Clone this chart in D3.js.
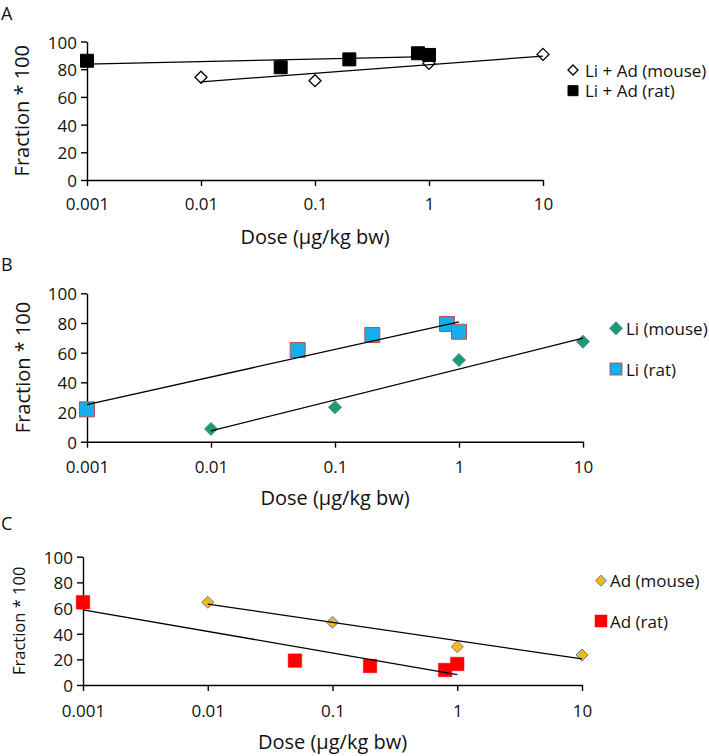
<!DOCTYPE html>
<html>
<head>
<meta charset="utf-8">
<script src="https://cdn.jsdelivr.net/npm/d3@7"></script>
<style>
  html, body { margin: 0; padding: 0; background: #fff; }
  svg { display: block; font-family: "Open Sans", sans-serif; }
</style>
</head>
<body>
<svg id="chart" width="709" height="756"></svg>
<script>
// ---- data ----
const xTickValues = [0.001, 0.01, 0.1, 1, 10];
const xTickLabels = ["0.001", "0.01", "0.1", "1", "10"];
const yTickValues = [0, 20, 40, 60, 80, 100];

const mouseDoses = [0.01, 0.1, 1, 10];
const ratDoses = [0.001, 0.05, 0.2, 0.8, 1];

const liAdMouse = [74.2, 71.7, 84.2, 90.7];
const liAdRat = [86.1, 81.4, 87.1, 91.5, 90.3];

const liMouse = [8.6, 23.2, 55.0, 67.4];
const liRat = [21.8, 61.8, 71.9, 79.3, 74.1];

const adMouse = [64.5, 48.9, 29.9, 23.4];
const adRat = [64.5, 19.0, 14.8, 11.7, 16.4];

const panelLetters = ["A", "B", "C"];
const legendLabels = [
  ["Li + Ad (mouse)", "Li + Ad (rat)"],
  ["Li (mouse)", "Li (rat)"],
  ["Ad (mouse)", "Ad (rat)"]
];
const xTitle = "Dose (\u00b5g/kg bw)";
const yTitle = "Fraction * 100";

// ---- layout / style ----
const panels = [
  { letter: panelLetters[0], letterY: 13, left: 87, right: 543, top: 41.5, bottom: 180,
    xLabelY: 203, xTitleY: 236, yTitleX: 21, yTitleSize: 20,
    legendX: 573, legendY: [70, 90.7], legendText: legendLabels[0], legendMarker: [10, 10], legendGap: 12,
    series: [
      { doses: mouseDoses, values: liAdMouse, shape: "diamond", size: 12, fill: "#fff", stroke: "#000", sw: 1.3 },
      { doses: ratDoses, values: liAdRat, shape: "square", size: 13, fill: "#000", stroke: "#000", sw: 1 }
    ] },
  { letter: panelLetters[1], letterY: 264, left: 87, right: 583, top: 293.3, bottom: 441.7,
    xLabelY: 466.7, xTitleY: 497, yTitleX: 22, yTitleSize: 20,
    legendX: 616, legendY: [328.3, 369], legendText: legendLabels[1], legendMarker: [13, 12], legendGap: 10,
    series: [
      { doses: mouseDoses, values: liMouse, shape: "diamond", size: 13, fill: "#1B9E67", stroke: "#4F81BD", sw: 1 },
      { doses: ratDoses, values: liRat, shape: "square", size: 15, fill: "#13AEEB", stroke: "#C0504D", sw: 1 }
    ] },
  { letter: panelLetters[2], letterY: 523, left: 83, right: 582, top: 556.7, bottom: 685,
    xLabelY: 710, xTitleY: 741.5, yTitleX: 18, yTitleSize: 16.5,
    legendX: 601, legendY: [580.7, 621], legendText: legendLabels[2], legendMarker: [11, 12], legendGap: 9,
    series: [
      { doses: mouseDoses, values: adMouse, shape: "diamond", size: 12, fill: "#F5B914", stroke: "#4F81BD", sw: 1 },
      { doses: ratDoses, values: adRat, shape: "square", size: 13.5, fill: "#FF0000", stroke: "#FF0000", sw: 0.5 }
    ] }
];

function markerPath(shape, size) {
  const r = size / 2;
  if (shape === "diamond") return `M0,${-r}L${r},0L0,${r}L${-r},0Z`;
  return `M${-r},${-r}H${r}V${r}H${-r}Z`;
}

function regression(xs, ys) {
  const lx = xs.map(Math.log10);
  const n = lx.length;
  const mx = d3.mean(lx), my = d3.mean(ys);
  let sxy = 0, sxx = 0;
  for (let i = 0; i < n; i++) { sxy += (lx[i] - mx) * (ys[i] - my); sxx += (lx[i] - mx) ** 2; }
  const slope = sxy / sxx;
  return x => my + slope * (Math.log10(x) - mx);
}

const svg = d3.select("#chart");
const textColor = "#111";

panels.forEach(p => {
  const g = svg.append("g");
  const x = d3.scaleLog().domain([0.001, 10]).range([p.left, p.right]);
  const y = d3.scaleLinear().domain([0, 100]).range([p.bottom, p.top]);

  // panel letter
  g.append("text").attr("x", 1).attr("y", p.letterY).attr("dominant-baseline", "central")
    .attr("font-size", 18).attr("fill", textColor).text(p.letter);

  // axes
  const xAxis = d3.axisBottom(x).tickValues(xTickValues)
    .tickFormat((d, i) => xTickLabels[i]).tickSizeInner(6).tickSizeOuter(0).tickPadding(5);
  const yAxis = d3.axisLeft(y).tickValues(yTickValues).tickSizeInner(6).tickSizeOuter(0).tickPadding(4);

  const gx = g.append("g").attr("transform", `translate(0,${p.bottom})`).call(xAxis);
  const gy = g.append("g").attr("transform", `translate(${p.left},0)`).call(yAxis);
  [gx, gy].forEach(a => {
    a.selectAll("path.domain").attr("stroke", "#000").attr("stroke-width", 1.4);
    a.selectAll(".tick line").attr("stroke", "#000").attr("stroke-width", 1.4);
    a.selectAll(".tick text").attr("font-size", 17).attr("fill", textColor)
      .attr("font-family", "'Open Sans', sans-serif");
  });
  gx.selectAll(".tick text").attr("dy", null).attr("y", p.xLabelY - p.bottom).attr("dominant-baseline", "central");
  gy.selectAll(".tick text").attr("dy", null).attr("dominant-baseline", "central");

  // axis titles
  g.append("text").attr("x", (p.left + p.right) / 2).attr("y", p.xTitleY)
    .attr("text-anchor", "middle").attr("dominant-baseline", "central")
    .attr("font-size", 20).attr("fill", textColor).text(xTitle);
  g.append("text")
    .attr("transform", `translate(${p.yTitleX},${(p.top + p.bottom) / 2}) rotate(-90)`)
    .attr("text-anchor", "middle").attr("dominant-baseline", "central")
    .attr("font-size", p.yTitleSize).attr("fill", textColor).text(yTitle);

  // markers
  p.series.forEach(s => {
    g.append("g").selectAll("path").data(s.doses.map((d, i) => [d, s.values[i]]))
      .join("path")
      .attr("d", markerPath(s.shape, s.size))
      .attr("transform", d => `translate(${x(d[0])},${y(d[1])})`)
      .attr("fill", s.fill).attr("stroke", s.stroke).attr("stroke-width", s.sw);
  });

  // trend lines (log regression) drawn on top
  p.series.forEach(s => {
    const f = regression(s.doses, s.values);
    const ext = d3.extent(s.doses);
    g.append("line")
      .attr("x1", x(ext[0])).attr("y1", y(f(ext[0])))
      .attr("x2", x(ext[1])).attr("y2", y(f(ext[1])))
      .attr("stroke", "#000").attr("stroke-width", 1.3);
  });

  // legend
  p.series.forEach((s, i) => {
    const ly = p.legendY[i];
    g.append("path").attr("d", markerPath(s.shape, p.legendMarker[i]))
      .attr("transform", `translate(${p.legendX},${ly})`)
      .attr("fill", s.fill).attr("stroke", s.stroke).attr("stroke-width", s.sw);
    g.append("text").attr("x", p.legendX + p.legendGap).attr("y", ly)
      .attr("dominant-baseline", "central").attr("font-size", 17).attr("fill", textColor)
      .text(p.legendText[i]);
  });
});
</script>
</body>
</html>
